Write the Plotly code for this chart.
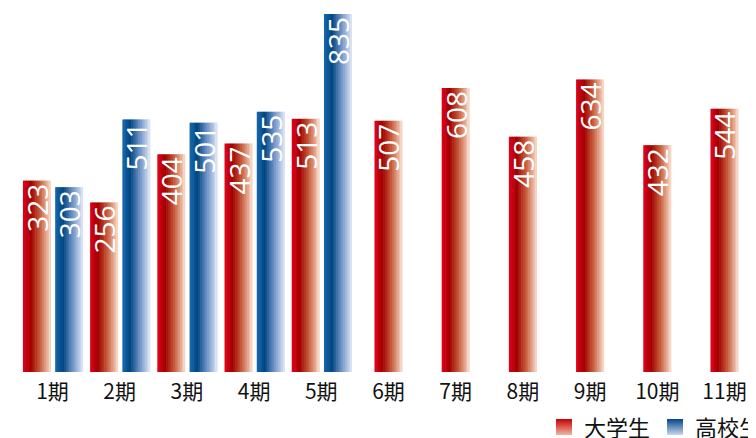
import plotly.graph_objects as go

categories = ["1期", "2期", "3期", "4期", "5期", "6期", "7期", "8期", "9期", "10期", "11期"]
univ_values = [323, 256, 404, 437, 513, 507, 608, 458, 634, 432, 544]
high_values = [303, 511, 501, 535, 835, None, None, None, None, None, None]
series_names = ["大学生", "高校生"]

BASE = -265
TOP = 835
BAR_W = 0.417
N_SLICES = 16

red_stops = [(0.0, (228, 0, 28)), (0.28, (160, 0, 0)), (0.6, (198, 90, 58)), (1.0, (250, 222, 206))]
blue_stops = [(0.0, (22, 104, 172)), (0.28, (0, 70, 130)), (0.6, (104, 142, 196)), (1.0, (226, 233, 246))]


def interp(stops, t):
    for (p0, c0), (p1, c1) in zip(stops[:-1], stops[1:]):
        if p0 <= t <= p1:
            f = (t - p0) / (p1 - p0)
            c = [round(a + (b - a) * f) for a, b in zip(c0, c1)]
            return "rgb(%d,%d,%d)" % tuple(c)
    return "rgb(%d,%d,%d)" % stops[-1][1]


has_high = [v is not None for v in high_values]
red_offset = [-0.44 if h else -BAR_W / 2 for h in has_high]
blue_offset = [0.04 for _ in has_high]

fig = go.Figure()


def add_gradient_bars(values, offsets, stops):
    heights = [None if v is None else v - BASE for v in values]
    sw = BAR_W / N_SLICES
    for k in range(N_SLICES):
        t = (k + 0.5) / N_SLICES
        wk = sw * (1.35 if k < N_SLICES - 1 else 1.0)
        fig.add_trace(go.Bar(
            x=categories, y=heights, base=BASE,
            offset=[o + k * sw for o in offsets], width=wk,
            marker=dict(color=interp(stops, t), line=dict(width=0)),
            showlegend=False, hoverinfo="skip",
        ))
    # text overlay (transparent bar spanning full width)
    fig.add_trace(go.Bar(
        x=categories, y=heights, base=BASE,
        offset=offsets, width=BAR_W,
        marker=dict(color="rgba(0,0,0,0)", line=dict(width=0)),
        text=[None if v is None else str(v) for v in values],
        textposition="inside", insidetextanchor="end", textangle=-90,
        textfont=dict(color="white", size=28, family="Open Sans"),
        showlegend=False, hoverinfo="skip",
    ))


add_gradient_bars(univ_values, red_offset, red_stops)
add_gradient_bars(high_values, blue_offset, blue_stops)

# legend entries
for name, top_c, bot_c in [(series_names[0], "rgb(240,180,160)", "rgb(200,0,0)"),
                           (series_names[1], "rgb(200,214,236)", "rgb(0,70,135)")]:
    fig.add_trace(go.Scatter(
        x=[None], y=[None], mode="markers", name=name,
        marker=dict(symbol="square", size=20, color=bot_c,
                    gradient=dict(type="vertical", color=top_c), line=dict(width=0)),
    ))

fig.update_layout(
    width=756, height=438,
    margin=dict(l=0, r=0, t=6, b=74, autoexpand=False),
    paper_bgcolor="white", plot_bgcolor="white",
    barmode="overlay",
    uniformtext=dict(minsize=28, mode="show"),
    xaxis=dict(type="category", range=[-0.662, 10.588], showgrid=False, zeroline=False,
               showline=False, ticks="", ticklabelstandoff=5,
               tickfont=dict(size=21, color="#111111", family="Noto Sans CJK JP")),
    yaxis=dict(range=[BASE, TOP], visible=False, showgrid=False, zeroline=False),
    legend=dict(orientation="h", xref="container", yref="container", x=0.709, y=0.043,
                xanchor="left", yanchor="middle", itemsizing="trace",
                font=dict(size=22, color="#111111", family="Noto Sans CJK JP"),
                bgcolor="rgba(0,0,0,0)"),
    font=dict(family="Noto Sans CJK JP"),
)

fig.write_html("out.html")
